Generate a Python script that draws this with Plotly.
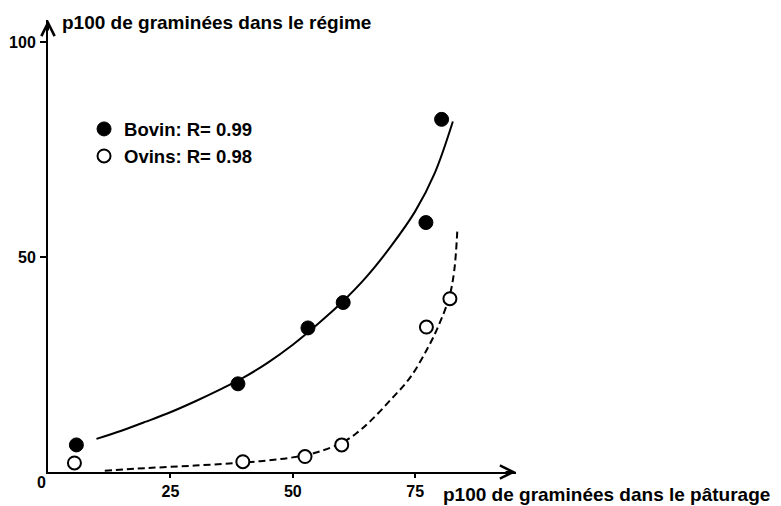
import plotly.graph_objects as go

# Data
bovin_x = [5.8, 38.8, 53.1, 60.3, 77.2, 80.4]
bovin_y = [6.3, 20.5, 33.5, 39.4, 58.0, 82.0]
ovin_x = [5.4, 39.8, 52.5, 60.0, 77.3, 82.1]
ovin_y = [2.1, 2.4, 3.6, 6.3, 33.7, 40.3]

# fitted curves
bovin_fit_x = [9.9, 15.0, 20.0, 25.0, 30.0, 35.0, 40.0, 45.0, 50.0, 55.0, 60.0, 65.0, 70.0, 75.0, 79.0, 82.7]
bovin_fit_y = [7.7, 9.6, 11.7, 13.9, 16.4, 19.1, 22.0, 25.5, 29.6, 34.3, 39.4, 45.3, 52.4, 60.6, 69.5, 81.5]
ovin_fit_x = [11.6, 20.0, 30.0, 40.0, 45.0, 50.0, 55.0, 60.0, 63.0, 66.0, 70.0, 74.0, 77.7, 80.0, 82.0, 83.0, 83.6]
ovin_fit_y = [0.3, 0.9, 1.5, 2.2, 2.7, 3.4, 4.6, 6.8, 9.0, 12.0, 16.8, 22.0, 29.1, 34.6, 40.8, 47.0, 55.9]

x_ticks = [25, 50, 75]
y_ticks = [50, 100]
bovin_name = "Bovin: R= 0.99"
ovin_name = "Ovins: R= 0.98"
x_title = "p100 de graminées dans le pâturage"
y_title = "p100 de graminées dans le régime"

X_MAX = 95.6
Y_MAX = 105.1
FONT = "Liberation Sans, Arial, Helvetica, sans-serif"

fig = go.Figure()
fig.add_trace(go.Scatter(x=bovin_fit_x, y=bovin_fit_y, mode="lines",
                         line=dict(color="black", width=2, shape="spline", smoothing=1.0),
                         showlegend=False, hoverinfo="skip"))
fig.add_trace(go.Scatter(x=ovin_fit_x, y=ovin_fit_y, mode="lines",
                         line=dict(color="black", width=2, dash="7px,4px", shape="spline", smoothing=1.0),
                         showlegend=False, hoverinfo="skip"))
fig.add_trace(go.Scatter(x=bovin_x, y=bovin_y, mode="markers", name=bovin_name,
                         marker=dict(symbol="circle", size=14, color="black",
                                     line=dict(color="black", width=1))))
fig.add_trace(go.Scatter(x=ovin_x, y=ovin_y, mode="markers", name=ovin_name,
                         marker=dict(symbol="circle", size=13, color="white",
                                     line=dict(color="black", width=2))))

fig.update_layout(
    width=773, height=498,
    margin=dict(l=40, r=265, t=12, b=34, autoexpand=False),
    plot_bgcolor="white", paper_bgcolor="white",
    font=dict(family=FONT, size=17, color="black"),
    showlegend=True,
    legend=dict(x=0.077, y=0.800, xanchor="left", yanchor="top",
                bgcolor="rgba(0,0,0,0)", font=dict(family=FONT, size=18.5, color="black", weight="bold"),
                itemwidth=30, tracegroupgap=0),
    xaxis=dict(range=[0, X_MAX], showgrid=False, zeroline=False, showline=True, automargin=False,
               linecolor="black", linewidth=2, ticks="outside", ticklen=4, tickwidth=1.5,
               tickcolor="black", tickvals=x_ticks, ticktext=[str(v) for v in x_ticks],
               tickfont=dict(family=FONT, size=16, color="black", weight="bold")),
    yaxis=dict(range=[0, Y_MAX], showgrid=False, zeroline=False, showline=True, automargin=False,
               linecolor="black", linewidth=2, ticks="outside", ticklen=6, tickwidth=1.5,
               ticklabelstandoff=1,
               tickcolor="black", tickvals=y_ticks, ticktext=[str(v) for v in y_ticks],
               tickfont=dict(family=FONT, size=16, color="black", weight="bold")),
)

# arrow tips on the axes
fig.add_annotation(x=X_MAX, y=0, xref="x", yref="y", ax=-12, ay=0,
                   showarrow=True, arrowhead=5, arrowsize=1.3, arrowwidth=2, arrowcolor="black", text="")
fig.add_annotation(x=0, y=Y_MAX, xref="x", yref="y", ax=0, ay=12,
                   showarrow=True, arrowhead=5, arrowsize=1.3, arrowwidth=2, arrowcolor="black", text="")

# origin label
fig.add_annotation(x=0, y=0, xref="x", yref="y", text="0", showarrow=False,
                   xanchor="right", yanchor="top", xshift=0, yshift=0,
                   font=dict(family=FONT, size=16, color="black", weight="bold"))
# axis titles
fig.add_annotation(x=X_MAX, y=0, xref="x", yref="y", text=x_title, showarrow=False,
                   xanchor="left", yanchor="top", xshift=-75, yshift=-10,
                   font=dict(family=FONT, size=19, color="black", weight="bold"))
fig.add_annotation(x=0, y=Y_MAX, xref="x", yref="y", text=y_title, showarrow=False,
                   xanchor="left", yanchor="middle", xshift=12, yshift=-2,
                   font=dict(family=FONT, size=19, color="black", weight="bold"))

fig.write_html("out.html")
